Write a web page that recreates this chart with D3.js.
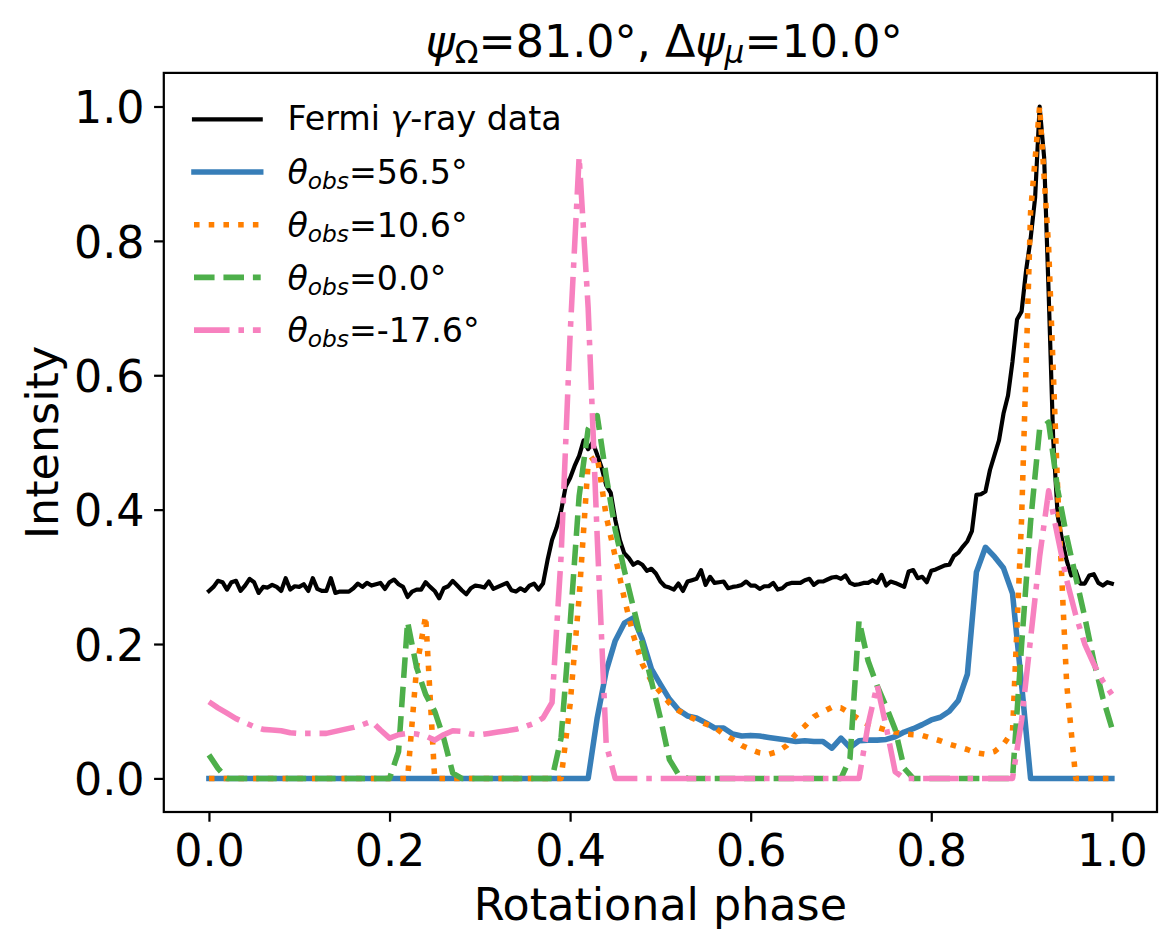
<!DOCTYPE html>
<html><head><meta charset="utf-8">
<script src="https://cdn.jsdelivr.net/npm/d3@7/dist/d3.min.js"></script>
<style>body{margin:0;background:#fff} text{font-family:"DejaVu Sans",sans-serif;fill:#000}</style>
</head><body><svg id="c" width="1176" height="949"></svg>
<script>
// Fermi data: 201 bins, phase step 0.005
const fermiStep = 0.005;
const fermi = [
0.279,0.285,0.294,0.292,0.281,0.292,0.294,0.279,0.287,0.297,
0.292,0.276,0.285,0.284,0.288,0.285,0.279,0.298,0.281,0.286,
0.285,0.289,0.279,0.298,0.282,0.279,0.279,0.298,0.276,0.278,
0.278,0.278,0.283,0.290,0.285,0.291,0.287,0.289,0.291,0.282,
0.292,0.296,0.289,0.285,0.270,0.278,0.281,0.281,0.292,0.285,
0.279,0.268,0.283,0.286,0.294,0.287,0.280,0.274,0.283,0.287,
0.286,0.284,0.293,0.282,0.285,0.288,0.291,0.280,0.278,0.283,
0.279,0.287,0.290,0.281,0.290,0.325,0.355,0.373,0.398,0.434,
0.447,0.465,0.480,0.503,0.490,0.500,0.482,0.462,0.436,0.425,
0.385,0.355,0.335,0.328,0.318,0.322,0.318,0.309,0.312,0.305,
0.293,0.286,0.284,0.281,0.290,0.279,0.293,0.295,0.297,0.310,
0.288,0.300,0.291,0.292,0.293,0.283,0.285,0.286,0.288,0.293,
0.287,0.287,0.282,0.286,0.286,0.291,0.281,0.283,0.289,0.291,
0.291,0.291,0.295,0.297,0.288,0.293,0.293,0.296,0.299,0.300,
0.297,0.302,0.291,0.288,0.289,0.291,0.291,0.295,0.291,0.303,
0.287,0.293,0.291,0.288,0.285,0.308,0.310,0.298,0.300,0.292,
0.309,0.311,0.314,0.317,0.318,0.331,0.336,0.345,0.353,0.368,
0.422,0.423,0.427,0.459,0.481,0.503,0.543,0.570,0.621,0.683,
0.695,0.756,0.803,0.864,1.000,0.924,0.722,0.506,0.391,0.354,
0.324,0.302,0.309,0.290,0.290,0.302,0.304,0.291,0.287,0.292,
0.290];

// Model curves: 101 samples, phase step 0.01
const modelStep = 0.01;
const theta565 = [
0,0,0,0,0,0,0,0,0,0,
0,0,0,0,0,0,0,0,0,0,
0,0,0,0,0,0,0,0,0,0,
0,0,0,0,0,0,0,0,0,0,
0,0,0,0.09,0.16,0.205,0.231,0.239,0.207,0.163,
0.140,0.118,0.102,0.093,0.090,0.083,0.075,0.075,0.066,0.063,
0.064,0.063,0.061,0.059,0.057,0.055,0.056,0.055,0.055,0.045,
0.060,0.046,0.056,0.057,0.057,0.058,0.062,0.069,0.074,0.080,
0.087,0.091,0.100,0.116,0.155,0.307,0.344,0.330,0.313,0.275,
0.140,0,0,0,0,0,0,0,0,0,
0];
const theta106 = [
0,0,0,0,0,0,0,0,0,0,
0,0,0,0,0,0,0,0,0,0,
0,0,0,0.165,0.242,0,0,0,0,0,
0,0,0,0,0,0,0,0,0,0,
0.11,0.27,0.47,0.48,0.39,0.33,0.268,0.213,0.170,0.145,
0.128,0.112,0.101,0.093,0.087,0.081,0.076,0.066,0.058,0.049,
0.043,0.038,0.036,0.040,0.049,0.066,0.078,0.092,0.099,0.106,
0.105,0.097,0.088,0.080,0.076,0.072,0.069,0.066,0.065,0.064,
0.060,0.056,0.051,0.047,0.043,0.038,0.036,0.040,0.051,0.070,
0.385,0.843,1.0,0.79,0.43,0.14,0,0,0,0,
0];
const theta00 = [
0.035,0.015,0,0,0,0,0,0,0,0,
0,0,0,0,0,0,0,0,0,0,
0,0.04,0.233,0.165,0.125,0.10,0.06,0.008,0,0,
0,0,0,0,0,0,0,0,0,0.06,
0.23,0.42,0.52,0.54,0.45,0.37,0.31,0.255,0.20,0.145,
0.09,0.028,0.006,0,0,0,0,0,0,0,
0,0,0,0,0,0,0,0,0,0,
0,0.03,0.235,0.175,0.138,0.107,0.073,0.015,0,0,
0,0,0,0,0,0,0,0,0,0,
0.198,0.382,0.52,0.53,0.43,0.36,0.30,0.24,0.175,0.12,
0.075];
const thetaM176 = [
0.114,0.105,0.097,0.089,0.083,0.077,0.073,0.072,0.071,0.068,
0.067,0.067,0.067,0.067,0.070,0.073,0.076,0.080,0.085,0.072,
0.060,0.065,0.067,0.066,0.063,0.057,0.065,0.071,0.070,0.066,
0.065,0.067,0.069,0.071,0.073,0.077,0.082,0.090,0.113,0.33,
0.66,0.925,0.70,0.36,0.05,0,0,0,0,0,
0,0,0,0,0,0,0,0,0,0,
0,0,0,0,0,0,0,0,0,0,
0,0,0,0.08,0.139,0.077,0.01,0,0,0,
0,0,0,0,0,0,0,0,0,0,
0.086,0.208,0.33,0.428,0.36,0.295,0.243,0.20,0.17,0.145,
0.125];

const legendNames = ["56.5", "10.6", "0.0", "-17.6"];
const xTicks = [0.0, 0.2, 0.4, 0.6, 0.8, 1.0];
const yTicks = [0.0, 0.2, 0.4, 0.6, 0.8, 1.0];

const svg = d3.select("#c");
const L = 163.8, R = 1157, T = 72.9, B = 812;
const x = d3.scaleLinear().domain([-0.05, 1.05]).range([L, R]);
const y = d3.scaleLinear().domain([-0.05, 1.05]).range([B, T]);
const PT = 200 / 72;

const series = [
  {vals: theta565, color: "#377eb8", dash: null},
  {vals: theta106, color: "#ff7f00", dash: [1, 1.65]},
  {vals: theta00, color: "#4daf4a", dash: [3.7, 1.6]},
  {vals: thetaM176, color: "#f781bf", dash: [6.4, 1.6, 1, 1.6]}
];
const lwM = 2 * PT, lwF = 1.5 * PT;

const line = d3.line().x(d => x(d[0])).y(d => y(d[1]));

// Fermi
svg.append("path")
  .attr("d", line(fermi.map((v, i) => [i * fermiStep, v])))
  .attr("fill", "none").attr("stroke", "#000").attr("stroke-width", lwF)
  .attr("stroke-linejoin", "round").attr("stroke-linecap", "square");

series.forEach(s => {
  const p = svg.append("path")
    .attr("d", line(s.vals.map((v, i) => [i * modelStep, v])))
    .attr("fill", "none").attr("stroke", s.color).attr("stroke-width", lwM)
    .attr("stroke-linejoin", "round");
  if (s.dash) p.attr("stroke-dasharray", s.dash.map(d => d * lwM).join(",")).attr("stroke-linecap", "butt");
  else p.attr("stroke-linecap", "square");
});

// Axes
const xAxis = svg.append("g").attr("transform", `translate(0,${B})`)
  .call(d3.axisBottom(x).tickValues(xTicks).tickFormat(d3.format(".1f")).tickSize(3.5 * PT).tickPadding(12.5));
const yAxis = svg.append("g").attr("transform", `translate(${L},0)`)
  .call(d3.axisLeft(y).tickValues(yTicks).tickFormat(d3.format(".1f")).tickSize(3.5 * PT).tickPadding(9.5));
[xAxis, yAxis].forEach(g => {
  g.select(".domain").remove();
  g.selectAll(".tick line").attr("stroke", "#000").attr("stroke-width", 0.8 * PT);
  g.selectAll(".tick text").attr("font-size", 44.4).attr("font-family", "DejaVu Sans").attr("fill", "#000");
});
yAxis.selectAll(".tick text").attr("dy", "0.365em");

svg.append("rect").attr("x", L).attr("y", T).attr("width", R - L).attr("height", B - T)
  .attr("fill", "none").attr("stroke", "#000").attr("stroke-width", 0.8 * PT).attr("stroke-linejoin", "miter");

// Labels
svg.append("text").attr("x", (L + R) / 2).attr("y", 920).attr("text-anchor", "middle")
  .attr("font-size", 44.4).text("Rotational phase");
svg.append("text").attr("transform", `translate(57.5,${(T + B) / 2}) rotate(-90)`).attr("text-anchor", "middle")
  .attr("font-size", 44.4).text("Intensity");

// Title
const tt = svg.append("text").attr("x", 664).attr("y", 56.7).attr("text-anchor", "middle").attr("font-size", 44.4);
tt.append("tspan").attr("font-style", "italic").text("ψ");
tt.append("tspan").attr("font-size", 31.1).attr("dy", 6.6).text("Ω");
tt.append("tspan").attr("dy", -6.6).text("=81.0°, Δ");
tt.append("tspan").attr("font-style", "italic").text("ψ");
tt.append("tspan").attr("font-size", 31.1).attr("font-style", "italic").attr("dy", 6.6).text("μ");
tt.append("tspan").attr("dy", -6.6).text("=10.0°");

// Legend
const lx0 = 194, lx1 = 260.7, tx = 287.4;
const rowY = i => 119.3 + i * 52.7;
const lg = svg.append("g");
lg.append("line").attr("x1", lx0).attr("x2", lx1).attr("y1", rowY(0)).attr("y2", rowY(0))
  .attr("stroke", "#000").attr("stroke-width", lwF).attr("stroke-linecap", "square");
lg.append("text").attr("x", tx).attr("y", rowY(0) + 10.7).attr("font-size", 33.3)
  .call(t => { t.append("tspan").text("Fermi "); t.append("tspan").attr("font-style", "italic").text("γ"); t.append("tspan").text("-ray data"); });
series.forEach((s, i) => {
  const yy = rowY(i + 1);
  const l = lg.append("line").attr("x1", lx0).attr("x2", lx1).attr("y1", yy).attr("y2", yy)
    .attr("stroke", s.color).attr("stroke-width", lwM);
  if (s.dash) l.attr("stroke-dasharray", s.dash.map(d => d * lwM).join(",")).attr("stroke-linecap", "butt");
  else l.attr("stroke-linecap", "square");
  const t = lg.append("text").attr("x", tx).attr("y", yy + 12.3).attr("font-size", 33.3);
  t.append("tspan").attr("font-style", "italic").text("θ");
  t.append("tspan").attr("font-style", "italic").attr("font-size", 23.3).attr("dy", 5).text("obs");
  t.append("tspan").attr("dy", -5).text("=" + legendNames[i] + "°");
});
</script></body></html>
